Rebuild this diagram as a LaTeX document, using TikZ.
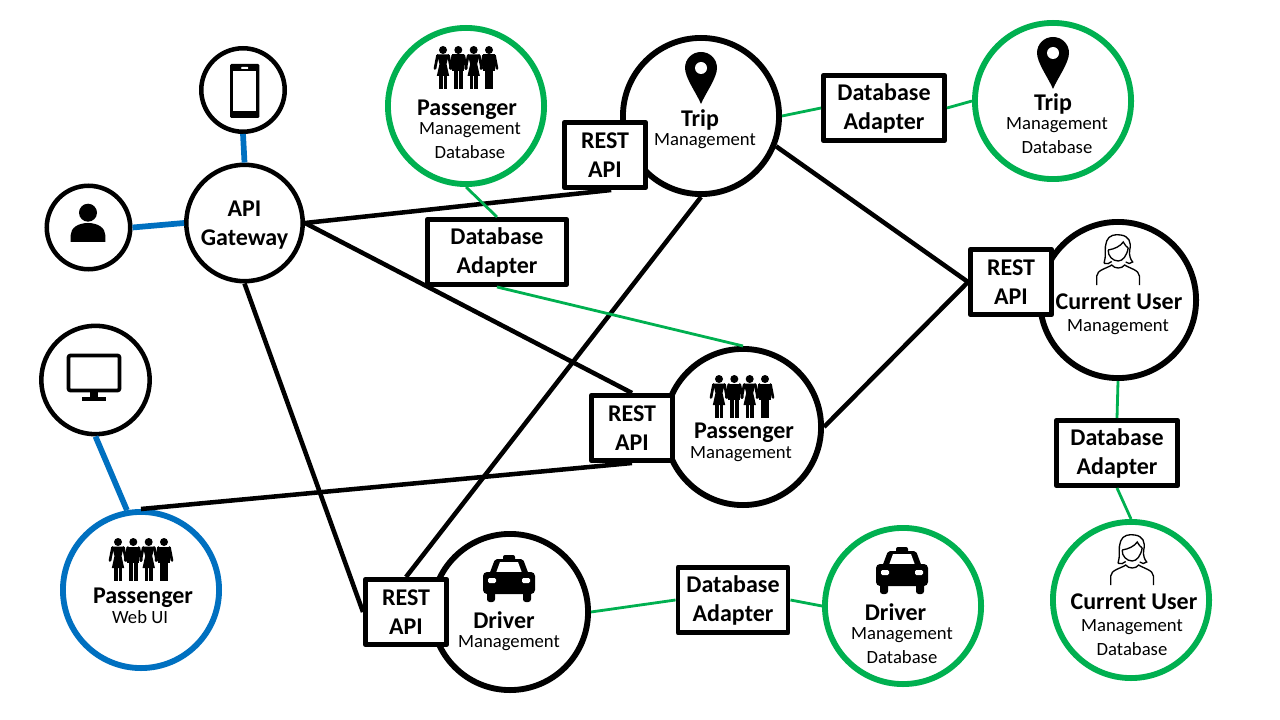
\documentclass[tikz,border=0pt]{standalone}
\usepackage{fontspec}
\setmainfont{Carlito}
\usetikzlibrary{calc, positioning}
\definecolor{dbgreen}{HTML}{00B050}
\definecolor{uiblue}{HTML}{0070C0}
\tikzset{
  svc/.style={circle,draw=black,fill=white,line width=4.4pt,minimum size=117.1pt,inner sep=0pt},
  svcdb/.style={svc,draw=dbgreen},
  svcui/.style={svc,draw=uiblue},
  dev/.style={circle,draw=black,fill=white,line width=3.4pt,minimum size=62.6pt,inner sep=0pt},
  adapter/.style={draw=black,fill=white,line width=3.5pt,line join=round,minimum height=49pt,inner sep=0pt,align=center,
    font=\bfseries\fontsize{18}{21.75}\selectfont},
  rest/.style={adapter,minimum width=61pt},
  callline/.style={draw=black,line width=3.4pt},
  dbline/.style={draw=dbgreen,line width=2.1pt},
  uiline/.style={draw=uiblue,line width=4.3pt},
  titletxt/.style={inner sep=0pt,text depth=0pt,font=\bfseries\fontsize{18}{21.75}\selectfont},
  subtxt/.style={inner sep=0pt,text depth=0pt,font=\fontsize{14}{17}\selectfont},
  % icons, origin in the middle, units are pixels
  crowd/.pic={
    \foreach \dx in {-23,7.7} {
      \fill (\dx,-15) circle (4);
      \fill (\dx-6,-10.5) -- (\dx+6,-10.5) -- (\dx+3.5,-1) -- (\dx+6.2,11) -- (\dx-6.2,11) -- (\dx-3.5,-1) -- cycle;
      \fill (\dx-4.2,10) rectangle (\dx-0.5,24);
      \fill (\dx+0.5,10) rectangle (\dx+4.2,24);
      \draw[line width=2pt,line cap=round] (\dx-5.5,-9.5) -- (\dx-8,3.5);
      \draw[line width=2pt,line cap=round] (\dx+5.5,-9.5) -- (\dx+8,3.5);
    }
    \foreach \dx in {-7.7,23} {
      \fill (\dx,-15) circle (4);
      \fill (\dx-6,-10.5) rectangle (\dx+6,6);
      \fill (\dx-4.4,5) rectangle (\dx-0.4,24);
      \fill (\dx+0.4,5) rectangle (\dx+4.4,24);
      \draw[line width=2pt,line cap=round] (\dx-5.5,-9.5) -- (\dx-8,3.5);
      \draw[line width=2pt,line cap=round] (\dx+5.5,-9.5) -- (\dx+8,3.5);
    }
  },
  pin/.pic={
    \fill (0,36) .. controls (-4,26) and (-16,10) .. (-16,0) .. controls (-16,-9) and (-9,-16) .. (0,-16)
      .. controls (9,-16) and (16,-9) .. (16,0) .. controls (16,10) and (4,26) .. (0,36) -- cycle;
    \fill[white] (0,0) circle (6);
  },
  taxi/.pic={
    \fill[rounded corners=1.5pt] (-6,-23) rectangle (6,-17);
    \fill[rounded corners=1.5pt] (-20,-3) -- (-14,-19) -- (14,-19) -- (20,-3) -- cycle;
    \fill[white] (-13,-5) -- (-9,-16) -- (9,-16) -- (13,-5) -- cycle;
    \fill[rounded corners=3pt] (-26,-6) rectangle (26,16);
    \fill[white,rounded corners=1pt] (-21,0) rectangle (-13,5);
    \fill[white,rounded corners=1pt] (13,0) rectangle (21,5);
    \fill[rounded corners=2pt] (-22,12) rectangle (-14,24);
    \fill[rounded corners=2pt] (14,12) rectangle (22,24);
  },
  lady/.pic={
    \begin{scope}[line width=1pt]
      \draw (-13.7,3.3) .. controls (-11,-4) and (-14,-12) .. (-11,-19) .. controls (-9,-25) and (-2,-26) .. (3,-25)
        .. controls (11,-24) and (14,-18) .. (12,-10) .. controls (11,-5) and (13,0) .. (15,2)
        .. controls (13,4) and (10,4) .. (8,2);
      \draw (-13.7,3.3) .. controls (-11,4) and (-8,4) .. (-6,1.5);
      \draw (-9.5,-10) .. controls (-3,-11) and (3,-14) .. (5.5,-18) .. controls (7,-15) and (9,-13) .. (10.5,-12);
      \draw (-9.5,-10) .. controls (-10,-4) and (-5,1) .. (0.5,1) .. controls (5,1) and (9,-4) .. (10.5,-12);
      \draw (-21,25) -- (-21,16) .. controls (-21,10) and (-10,8) .. (-6,5)
        .. controls (-3,9) and (4,9) .. (7,5) .. controls (11,8) and (21.7,10) .. (21.7,16) -- (21.7,25);
    \end{scope}
  },
  phone/.pic={
    \fill[rounded corners=1pt] (-14.7,-27) rectangle (14.7,27);
    \fill[white] (-11.4,-20.3) rectangle (11.3,20);
    \fill[white,rounded corners=0.5pt] (-3.5,-24) rectangle (3.5,-22);
  },
  guest/.pic={
    \fill (0,-15.3) circle (9);
    \fill (-17.3,14) -- (-17.3,7) .. controls (-17.3,0) and (-10,-5) .. (0,-5)
      .. controls (10,-5) and (17.3,0) .. (17.3,7) -- (17.3,14) -- cycle;
  },
  screen/.pic={
    \draw[line width=2.8pt,rounded corners=1.5pt] (-25.5,-23.5) rectangle (25.5,11.5);
    \fill (-4,13) rectangle (4,19);
    \fill (-12.5,18) rectangle (12,22);
  }
}
\begin{document}
\begin{tikzpicture}[x=0.75pt,y=-0.75pt]
  \useasboundingbox (0,0) rectangle (1280,720);
  % clients
  \node[dev] (phonedev) at (243,90) {};
  \node[dev] (guestdev) at (88.5,227.5) {};
  \node[dev,minimum size=81.3pt] (screendev) at (95.5,380) {};
  \node[dev,minimum size=87.3pt,align=center,text depth=0pt,font=\bfseries\fontsize{18}{22}\selectfont] (gateway) at (244.5,223) {API\\Gateway};
  \node[svcui] (webui) at (141,590) {};
  % services and their databases
  \foreach \nm/\x/\y in {tripsvc/701/116, passvc/743/427, cursvc/1118/300, drvsvc/510/612} {
    \node[svc] (\nm) at (\x,\y) {};
  }
  \foreach \nm/\x/\y in {pasdb/466/106, tripdb/1053/101, curdb/1131/600, drvdb/903/606} {
    \node[svcdb] (\nm) at (\x,\y) {};
  }
  \foreach \nm/\x/\y in {tripapi/605/155, curapi/1011/282, pasapi/632/428, drvapi/406/612} {
    \node[rest] (\nm) at (\x,\y) {REST\\API};
  }
  \foreach \nm/\x/\y/\w in {pasad/497/252/104.5, tripad/884/108/91, curad/1117/453/91, drvad/733/600/82.7} {
    \node[adapter,text depth=2.5pt,minimum width=\w pt] (\nm) at (\x,\y) {Database\\Adapter};
  }
  % calls
  \draw[uiline] (phonedev.south) -- (gateway.north);
  \draw[uiline] (guestdev.east) -- (gateway.west);
  \draw[uiline] (screendev.south) -- (webui.100);
  \draw[callline] (gateway.0) -- (tripapi.-80);
  \draw[callline] (gateway.0) -- (pasapi.north);
  \draw[callline] (gateway.south) -- (drvapi.west);
  \draw[callline] (webui.north) -- (pasapi.south);
  \draw[callline] (tripsvc.south) -- (drvapi.north);
  \draw[callline] (tripsvc.-22) -- (curapi.west);
  \draw[callline] (passvc.east) -- (curapi.west);
  % database links
  \draw[dbline] (pasdb.south) -- (pasad.north);
  \draw[dbline] (pasad.south) -- (passvc.north);
  \draw[dbline] (tripsvc.east) -- (tripad.west);
  \draw[dbline] (tripad.east) -- (tripdb.west);
  \draw[dbline] (cursvc.south) -- (curad.north);
  \draw[dbline] (curad.south) -- (curdb.north);
  \draw[dbline] (drvsvc.east) -- (drvad.west);
  \draw[dbline] (drvad.east) -- (drvdb.west);
  % icons
  \pic at (244.7,91) {phone};
  \pic at (88,228) {guest};
  \pic at (94,379) {screen};
  \foreach \x/\y in {466/65, 742/394, 141/557} {\pic at (\x,\y) {crowd};}
  \pic at (701,68) {pin};
  \pic at (1053,53) {pin};
  \pic at (509,578) {taxi};
  \pic at (902,570) {taxi};
  \pic at (1117.7,260) {lady};
  \pic at (1131.7,560) {lady};
  % texts
  \foreach \nm/\x/\y/\txt in {t1/467/108/Passenger, t2/700/118/Trip, t3/1053/102/Trip, t4/1119/302/Current User,
    t5/1134/602/Current User, t6/744/431/Passenger, t7/143/596/Passenger, t8/504/620/Driver, t9/895.5/612/Driver} {
    \node[titletxt] (\nm) at (\x,\y) {\txt};
  }
  \foreach \nm/\x/\y/\txt in {s1/470/129/Management, s2/470/152/Database, s3/705/140/Management, s4/1057/124/Management,
    s5/1057/147/Database, s6/1118/326/Management, s7/1132/626/Management, s8/1132/649/Database,
    s9/741/453/Management, s10/140/617/Web UI, s11/509/642/Management, s12/902/634/Management, s13/902/657/Database} {
    \node[subtxt] (\nm) at (\x,\y) {\txt};
  }
\end{tikzpicture}
\end{document}
